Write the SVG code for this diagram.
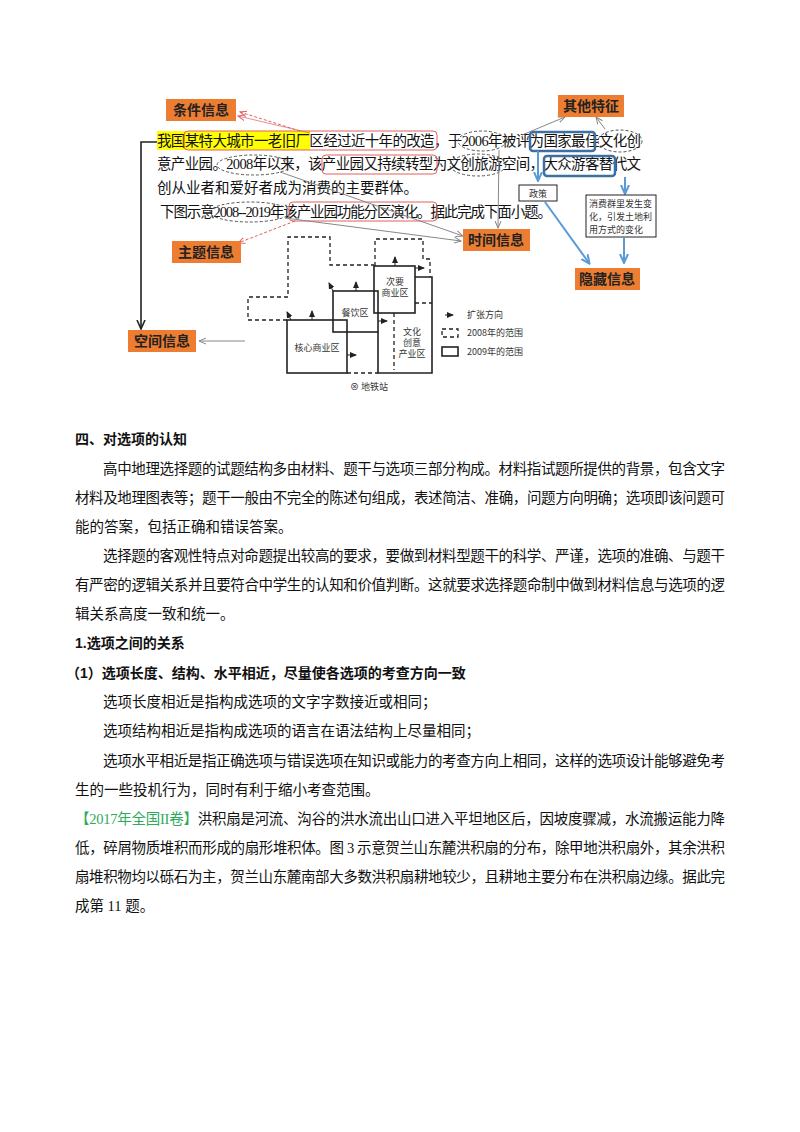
<svg xmlns="http://www.w3.org/2000/svg" width="800" height="1132" viewBox="0 0 800 1132">
<style>
.t{font-family:"Liberation Serif","Noto Sans CJK SC",serif;font-size:14.5px;fill:#111}
.b{font-family:"Liberation Sans","Noto Sans CJK SC",sans-serif;font-size:14px;font-weight:bold;fill:#111}
.lab rect{fill:#ed7d31}
.lab text{font-family:"Noto Sans CJK SC",sans-serif;font-size:14px;font-weight:bold;fill:#222;text-anchor:middle}
.m{font-family:"Noto Sans CJK SC",sans-serif;font-size:9px;fill:#333}
.red{fill:none;stroke:#e06060;stroke-width:1}
.ell{fill:none;stroke:#555;stroke-dasharray:3,2}
.blue{fill:none;stroke:#3e6fa3;stroke-width:2.5}
.sol{fill:none;stroke:#222;stroke-width:1.6}
.dash{fill:none;stroke:#222;stroke-width:1.3;stroke-dasharray:4,3}
</style>
<defs>
<marker id="ag" markerUnits="userSpaceOnUse" markerWidth="8" markerHeight="8" refX="7" refY="4" orient="auto"><path d="M0,1L7,4L0,7" fill="none" stroke="#888"/></marker>
<marker id="ar" markerUnits="userSpaceOnUse" markerWidth="8" markerHeight="8" refX="7" refY="4" orient="auto"><path d="M0,1L7,4L0,7" fill="none" stroke="#e06060"/></marker>
<marker id="ab" markerUnits="userSpaceOnUse" markerWidth="10" markerHeight="10" refX="8" refY="5" orient="auto"><path d="M0,1L9,5L0,9" fill="none" stroke="#5b9bd5" stroke-width="2"/></marker>
<marker id="ak" markerUnits="userSpaceOnUse" markerWidth="8" markerHeight="8" refX="6" refY="4" orient="auto"><path d="M0,1L7,4L0,7Z" fill="#222"/></marker>
<marker id="ak2" markerUnits="userSpaceOnUse" markerWidth="10" markerHeight="10" refX="8" refY="5" orient="auto"><path d="M0,1L9,5L0,9" fill="none" stroke="#222" stroke-width="1.6"/></marker>
</defs>
<rect width="800" height="1132" fill="#fff"/>
<rect x="157" y="131" width="153" height="19" fill="#ffff00"/>
<g id="passage">
<text class="t" x="157" y="146" textLength="484" font-size="14">我国某特大城市一老旧厂区经过近十年的改造，于2006年被评为国家最佳文化创</text>
<text class="t" x="157" y="169" textLength="484">意产业园。2008年以来，该产业园又持续转型为文创旅游空间，大众游客替代文</text>
<text class="t" x="157" y="193">创从业者和爱好者成为消费的主要群体。</text>
<text class="t" x="160" y="217" textLength="392">下图示意2008--2019年该产业园功能分区演化。据此完成下面小题。</text>
</g>
<g id="marks">
<rect class="red" x="184" y="131" width="253" height="19" rx="4"/>
<rect class="red" x="322" y="155" width="115" height="19" rx="4"/>
<rect class="red" x="289" y="202" width="148" height="19" rx="4"/>
<ellipse class="ell" cx="482" cy="141" rx="24" ry="10"/>
<ellipse class="ell" cx="254" cy="165" rx="37" ry="10"/>
<ellipse class="ell" cx="478" cy="165" rx="28" ry="11"/>
<ellipse class="ell" cx="250" cy="212" rx="40" ry="10"/>
<ellipse class="ell" cx="620" cy="141" rx="22" ry="11"/>
<rect class="blue" x="530" y="132" width="65" height="19" rx="3"/>
<rect class="blue" x="544" y="156" width="71" height="20" rx="3"/>
</g>
<g id="connectors">
<path d="M157,142H141V328" class="sol" marker-end="url(#ak2)"/>
<path d="M300,131L240,112" fill="none" stroke="#e06060" stroke-dasharray="3,2" marker-end="url(#ar)"/>
<path d="M310,133L238,116" fill="none" stroke="#e06060" stroke-width="0.7" marker-end="url(#ar)"/>
<path d="M295,221L238,243" fill="none" stroke="#e06060" stroke-dasharray="3,2" marker-end="url(#ar)"/>
<path d="M280,172L463,236" fill="none" stroke="#888" marker-end="url(#ag)"/>
<path d="M285,218L461,241" fill="none" stroke="#888" marker-end="url(#ag)"/>
<path d="M499,150L498,228" fill="none" stroke="#888" marker-end="url(#ag)"/>
<path d="M522,135L565,117" fill="none" stroke="#888" marker-end="url(#ag)"/>
<path d="M605,129L596,117" fill="none" stroke="#888" marker-end="url(#ag)"/>
<path d="M245,341H199" fill="none" stroke="#888" marker-end="url(#ag)"/>
<path d="M538,151V180" fill="none" stroke="#5b9bd5" stroke-width="2" marker-end="url(#ab)"/>
<path d="M625,177V193" fill="none" stroke="#5b9bd5" stroke-width="2" marker-end="url(#ab)"/>
<path d="M545,202L589,263" fill="none" stroke="#5b9bd5" stroke-width="2" marker-end="url(#ab)"/>
<path d="M624,238V262" fill="none" stroke="#5b9bd5" stroke-width="2" marker-end="url(#ab)"/>
</g>
<g id="n-tiaojian" class="lab"><rect x="166" y="99" width="70" height="22"/><text x="201" y="115">条件信息</text></g>
<g id="n-zhuti" class="lab"><rect x="172" y="241" width="69" height="22"/><text x="206" y="257">主题信息</text></g>
<g id="n-kongjian" class="lab"><rect x="128" y="330" width="68" height="22"/><text x="162" y="346">空间信息</text></g>
<g id="n-shijian" class="lab"><rect x="463" y="229" width="67" height="22"/><text x="496" y="245">时间信息</text></g>
<g id="n-qita" class="lab"><rect x="558" y="95" width="66" height="22"/><text x="591" y="111">其他特征</text></g>
<g id="n-yincang" class="lab"><rect x="575" y="268" width="65" height="22"/><text x="607" y="284">隐藏信息</text></g>
<g id="n-zhengce"><rect x="519" y="185" width="38" height="16" fill="#fff" stroke="#222"/><text class="m" x="538" y="197" text-anchor="middle" font-size="10">政策</text></g>
<g id="n-xiaofei"><rect x="586" y="195" width="70" height="42" fill="#fff" stroke="#222"/><text class="m" x="589" y="207" font-size="10">消费群里发生变</text><text class="m" x="589" y="220" font-size="10">化，引发土地利</text><text class="m" x="589" y="233" font-size="10">用方式的变化</text></g>
<g id="map">
<path class="dash" d="M287,320H248V297H288V237H330V265H374"/>
<path class="dash" d="M375,266V239H423V259H430V277"/>
<path class="dash" d="M347,373H378M394,313V370M415,303H432"/>
<rect class="sol" x="287" y="320" width="60" height="53"/>
<rect class="sol" x="333" y="291" width="45" height="41" fill="#fff"/>
<rect class="sol" x="374" y="266" width="41" height="47" fill="#fff"/>
<path class="sol" d="M415,277H432V373H378V332"/>
<g stroke="#222" stroke-width="1">
<path d="M356,291V282" marker-end="url(#ak)"/><path d="M395,266V257" marker-end="url(#ak)"/>
<path d="M312,320V311" marker-end="url(#ak)"/><path d="M291,320L287,312" marker-end="url(#ak)"/>
<path d="M333,291L329,283" marker-end="url(#ak)"/><path d="M378,321H387" marker-end="url(#ak)"/>
<path d="M347,355H356" marker-end="url(#ak)"/><path d="M415,268H424" marker-end="url(#ak)"/>
<path d="M445,315H453" marker-end="url(#ak)"/>
</g>
<text class="m" x="317" y="351" text-anchor="middle">核心商业区</text>
<text class="m" x="355" y="316" text-anchor="middle">餐饮区</text>
<text class="m" x="395" y="285" text-anchor="middle">次要</text><text class="m" x="395" y="296" text-anchor="middle">商业区</text>
<text class="m" x="412" y="335" text-anchor="middle">文化</text><text class="m" x="412" y="346" text-anchor="middle">创意</text><text class="m" x="412" y="357" text-anchor="middle">产业区</text>
<rect class="dash" x="442" y="329" width="16" height="8" stroke-width="1"/>
<rect class="sol" x="442" y="347" width="16" height="9" stroke-width="1.2"/>
<text class="m" x="467" y="318">扩张方向</text>
<text class="m" x="467" y="336">2008年的范围</text>
<text class="m" x="467" y="355">2009年的范围</text>
<text class="m" x="350" y="390">⊗  地铁站</text>
</g>
<g id="body">
<text class="b" x="75" y="444">四、对选项的认知</text>
<text class="t" x="103" y="474" textLength="622">高中地理选择题的试题结构多由材料、题干与选项三部分构成。材料指试题所提供的背景，包含文字</text>
<text class="t" x="75" y="503" textLength="650">材料及地理图表等；题干一般由不完全的陈述句组成，表述简洁、准确，问题方向明确；选项即该问题可</text>
<text class="t" x="75" y="532">能的答案，包括正确和错误答案。</text>
<text class="t" x="103" y="561" textLength="622">选择题的客观性特点对命题提出较高的要求，要做到材料型题干的科学、严谨，选项的准确、与题干</text>
<text class="t" x="75" y="590" textLength="650">有严密的逻辑关系并且要符合中学生的认知和价值判断。这就要求选择题命制中做到材料信息与选项的逻</text>
<text class="t" x="75" y="619">辑关系高度一致和统一。</text>
<text class="b" x="75" y="648">1.选项之间的关系</text>
<text class="b" x="66" y="678">（1）选项长度、结构、水平相近，尽量使各选项的考查方向一致</text>
<text class="t" x="103" y="707">选项长度相近是指构成选项的文字字数接近或相同；</text>
<text class="t" x="103" y="736">选项结构相近是指构成选项的语言在语法结构上尽量相同；</text>
<text class="t" x="103" y="766" textLength="622">选项水平相近是指正确选项与错误选项在知识或能力的考查方向上相同，这样的选项设计能够避免考</text>
<text class="t" x="75" y="795">生的一些投机行为，同时有利于缩小考查范围。</text>
<text class="t" x="75" y="824" textLength="650"><tspan fill="#2eaa5a">【2017年全国II卷】</tspan>洪积扇是河流、沟谷的洪水流出山口进入平坦地区后，因坡度骤减，水流搬运能力降</text>
<text class="t" x="75" y="853" textLength="650">低，碎屑物质堆积而形成的扇形堆积体。图 3 示意贺兰山东麓洪积扇的分布，除甲地洪积扇外，其余洪积</text>
<text class="t" x="75" y="882" textLength="650">扇堆积物均以砾石为主，贺兰山东麓南部大多数洪积扇耕地较少，且耕地主要分布在洪积扇边缘。据此完</text>
<text class="t" x="75" y="911">成第 11 题。</text>
</g>
</svg>
